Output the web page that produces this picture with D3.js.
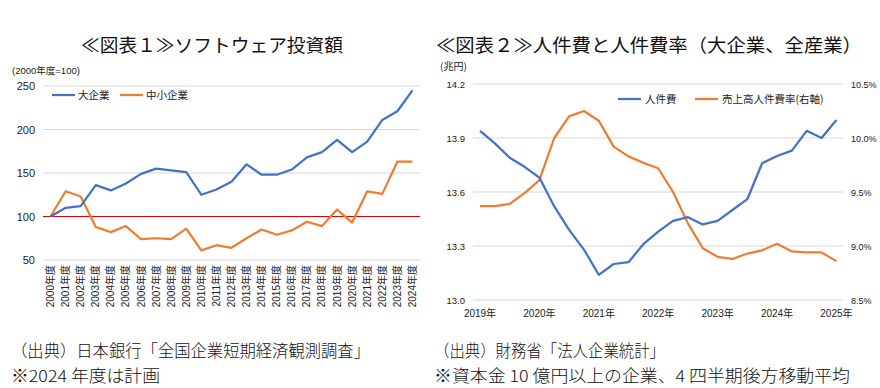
<!DOCTYPE html>
<html>
<head>
<meta charset="utf-8">
<script src="https://cdn.jsdelivr.net/npm/d3@7"></script>
<style>
body { margin: 0; background: #fff; }
svg { display: block; }
</style>
</head>
<body>
<div id="app"></div>
<script>
// chart 1 data
const years1 = ['2000', '2001', '2002', '2003', '2004', '2005', '2006', '2007', '2008', '2009', '2010', '2011', '2012',
    '2013', '2014', '2015', '2016', '2017', '2018', '2019', '2020', '2021', '2022', '2023', '2024'];
const largeCorp = [100, 110, 112, 136, 130, 138, 149, 155, 153, 151, 125, 131, 140, 160, 148, 148, 154, 168, 174, 188,
    174, 186, 211, 221, 245];
const smallCorp = [100, 129, 123, 88, 82, 89, 74, 75, 74, 86, 61, 67, 64, 75, 85, 79, 84, 94, 89, 108, 93, 129, 126, 163, 163];
const ticks1 = [50, 100, 150, 200, 250];

// chart 2 data (quarterly, 4 period moving average)
const yearLabels2 = ['2019年', '2020年', '2021年', '2022年', '2023年', '2024年', '2025年'];
const laborCost = [13.94, 13.87, 13.79, 13.74, 13.68, 13.52, 13.39, 13.28, 13.14, 13.20, 13.21, 13.31, 13.38, 13.44,
    13.46, 13.42, 13.44, 13.50, 13.56, 13.76, 13.80, 13.83, 13.94, 13.90, 14.00];
const laborRatio = [9.37, 9.37, 9.39, 9.49, 9.61, 10.00, 10.20, 10.25, 10.16, 9.92, 9.83, 9.77, 9.72, 9.50, 9.21, 8.98,
    8.90, 8.88, 8.93, 8.96, 9.02, 8.95, 8.94, 8.94, 8.86];
const ticksLeft2 = [13.0, 13.3, 13.6, 13.9, 14.2];
const ticksRight2 = [8.5, 9.0, 9.5, 10.0, 10.5];

const BLUE = '#4472c4';
const ORANGE = '#ed7d31';
const GRID = '#d9d9d9';
const NUM_FONT = '"Liberation Sans", "Noto Sans CJK JP", sans-serif';
const JP_FONT = '"Noto Sans CJK JP", sans-serif';

const svg = d3.select('#app').append('svg')
    .attr('width', 880)
    .attr('height', 388);

// ---------- chart 1 ----------
const g1 = svg.append('g');

const x1 = d3.scaleBand().domain(years1).range([43, 420]);
const y1 = d3.scaleLinear().domain([50, 250]).range([260, 86]);
const cx1 = d => x1(d) + x1.bandwidth() / 2;

g1.append('g').selectAll('line')
    .data(ticks1)
    .enter().append('line')
    .attr('x1', 43).attr('x2', 420)
    .attr('y1', d => y1(d)).attr('y2', d => y1(d))
    .attr('stroke', GRID)
    .attr('stroke-width', 1);

g1.append('g').selectAll('text')
    .data(ticks1)
    .enter().append('text')
    .attr('x', 35)
    .attr('y', d => y1(d) + 4)
    .attr('text-anchor', 'end')
    .attr('font-family', NUM_FONT)
    .attr('font-size', 11)
    .attr('fill', '#222')
    .text(d => d);

// 100 reference line
g1.append('line')
    .attr('x1', 43).attr('x2', 420)
    .attr('y1', y1(100)).attr('y2', y1(100))
    .attr('stroke', '#e00000')
    .attr('stroke-width', 1.2);

g1.append('g').selectAll('text')
    .data(years1)
    .enter().append('text')
    .attr('transform', d => 'translate(' + (cx1(d) + 3.5) + ',265) rotate(-90)')
    .attr('text-anchor', 'end')
    .attr('font-family', NUM_FONT)
    .attr('font-size', 10)
    .attr('fill', '#222')
    .text(d => d + '年度');

g1.append('text')
    .attr('x', 12).attr('y', 74)
    .attr('font-family', NUM_FONT)
    .attr('font-size', 9.5)
    .attr('fill', '#222')
    .text('(2000年度=100)');

const line1 = d3.line()
    .x((d, i) => cx1(years1[i]))
    .y(d => y1(d));

g1.append('path')
    .datum(smallCorp)
    .attr('d', line1)
    .attr('fill', 'none')
    .attr('stroke', ORANGE)
    .attr('stroke-width', 2.25)
    .attr('stroke-linejoin', 'round');

g1.append('path')
    .datum(largeCorp)
    .attr('d', line1)
    .attr('fill', 'none')
    .attr('stroke', BLUE)
    .attr('stroke-width', 2.25)
    .attr('stroke-linejoin', 'round');

const legend1 = [
    {label: '大企業', color: BLUE, x: 52},
    {label: '中小企業', color: ORANGE, x: 120},
];
legend1.forEach(l => {
    g1.append('line')
        .attr('x1', l.x).attr('x2', l.x + 23)
        .attr('y1', 95).attr('y2', 95)
        .attr('stroke', l.color)
        .attr('stroke-width', 2.25);
    g1.append('text')
        .attr('x', l.x + 26).attr('y', 99)
        .attr('font-family', JP_FONT)
        .attr('font-size', 10.5)
        .attr('fill', '#222')
        .text(l.label);
});

// ---------- chart 2 ----------
const g2 = svg.append('g');

const x2 = d3.scaleLinear().domain([0, laborCost.length - 1]).range([480, 836.4]);
const yL = d3.scaleLinear().domain([13.0, 14.2]).range([300, 84]);
const yR = d3.scaleLinear().domain([8.5, 10.5]).range([300, 84]);

g2.append('g').selectAll('line')
    .data(ticksLeft2)
    .enter().append('line')
    .attr('x1', 473).attr('x2', 843)
    .attr('y1', d => yL(d)).attr('y2', d => yL(d))
    .attr('stroke', GRID)
    .attr('stroke-width', 1);

g2.append('g').selectAll('text')
    .data(ticksLeft2)
    .enter().append('text')
    .attr('x', 465)
    .attr('y', d => yL(d) + 4)
    .attr('text-anchor', 'end')
    .attr('font-family', NUM_FONT)
    .attr('font-size', 9.5)
    .attr('fill', '#222')
    .text(d => d3.format('.1f')(d));

g2.append('g').selectAll('text')
    .data(ticksRight2)
    .enter().append('text')
    .attr('x', 851)
    .attr('y', d => yR(d) + 4)
    .attr('font-family', NUM_FONT)
    .attr('font-size', 9)
    .attr('fill', '#222')
    .text(d => d3.format('.1f')(d) + '%');

g2.append('g').selectAll('text')
    .data(yearLabels2)
    .enter().append('text')
    .attr('x', (d, i) => x2(i * 4))
    .attr('y', 317)
    .attr('text-anchor', 'middle')
    .attr('font-family', NUM_FONT)
    .attr('font-size', 10)
    .attr('fill', '#222')
    .text(d => d);

g2.append('text')
    .attr('x', 440).attr('y', 70)
    .attr('font-family', JP_FONT)
    .attr('font-size', 10)
    .attr('fill', '#222')
    .text('(兆円)');

g2.append('path')
    .datum(laborRatio)
    .attr('d', d3.line().x((d, i) => x2(i)).y(d => yR(d)))
    .attr('fill', 'none')
    .attr('stroke', ORANGE)
    .attr('stroke-width', 2.25)
    .attr('stroke-linejoin', 'round');

g2.append('path')
    .datum(laborCost)
    .attr('d', d3.line().x((d, i) => x2(i)).y(d => yL(d)))
    .attr('fill', 'none')
    .attr('stroke', BLUE)
    .attr('stroke-width', 2.25)
    .attr('stroke-linejoin', 'round');

const legend2 = [
    {label: '人件費', color: BLUE, x: 618},
    {label: '売上高人件費率(右軸)', color: ORANGE, x: 695},
];
legend2.forEach(l => {
    g2.append('line')
        .attr('x1', l.x).attr('x2', l.x + 23)
        .attr('y1', 99).attr('y2', 99)
        .attr('stroke', l.color)
        .attr('stroke-width', 2.25);
    g2.append('text')
        .attr('x', l.x + 27).attr('y', 103)
        .attr('font-family', JP_FONT)
        .attr('font-size', 10.5)
        .attr('fill', '#222')
        .text(l.label);
});

// ---------- titles and notes ----------
const titles = [
    {text: '≪図表１≫ソフトウェア投資額', x: 81, w: 262},
    {text: '≪図表２≫人件費と人件費率（大企業、全産業）', x: 436, w: 426},
];
titles.forEach(t => {
    svg.append('text')
        .attr('x', t.x).attr('y', 52)
        .attr('font-family', JP_FONT)
        .attr('font-size', 18.5)
        .attr('textLength', t.w)
        .attr('lengthAdjust', 'spacingAndGlyphs')
        .attr('fill', '#111')
        .text(t.text);
});

const notes = [
    {text: '（出典）日本銀行「全国企業短期経済観測調査」', x: 11, y: 357, w: 359},
    {text: '※2024 年度は計画', x: 11, y: 382, w: 149},
    {text: '（出典）財務省「法人企業統計」', x: 434, y: 357, w: 231},
    {text: '※資本金 10 億円以上の企業、4 四半期後方移動平均', x: 434, y: 382, w: 416},
];
notes.forEach(n => {
    svg.append('text')
        .attr('x', n.x).attr('y', n.y)
        .attr('font-family', JP_FONT)
        .attr('font-size', 16.5)
        .attr('font-weight', 300)
        .attr('textLength', n.w)
        .attr('lengthAdjust', 'spacingAndGlyphs')
        .attr('fill', '#111')
        .text(n.text);
});
</script>
</body>
</html>
